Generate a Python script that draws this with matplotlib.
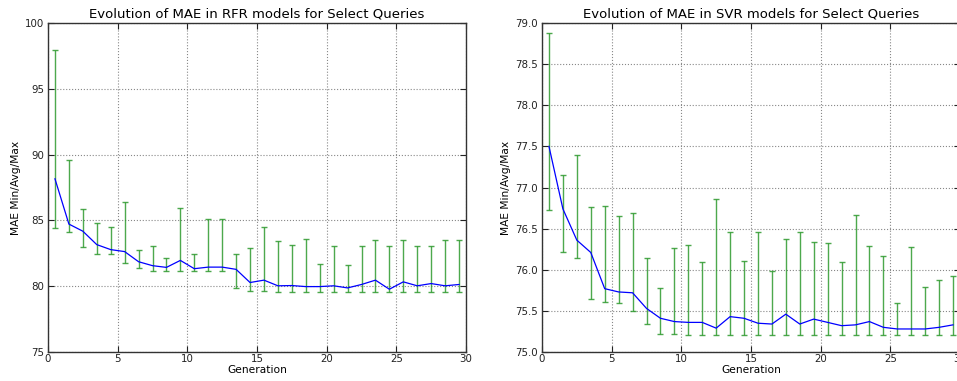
import matplotlib
matplotlib.use("Agg")
import matplotlib.pyplot as plt
import numpy as np

generations = [g + 0.5 for g in range(30)]

rfr_avg = [88.16, 84.72, 84.18, 83.16, 82.78, 82.63, 81.86, 81.56, 81.43, 81.96,
           81.33, 81.45, 81.45, 81.28, 80.28, 80.46, 80.03, 80.05, 79.97, 79.97,
           80.03, 79.87, 80.13, 80.46, 79.77, 80.33, 80.03, 80.20, 80.03, 80.13]
rfr_max = [97.98, 89.62, 85.87, 84.77, 84.49, 86.40, 82.78, 83.09, 82.17, 85.94,
           82.47, 85.10, 85.10, 82.42, 82.88, 84.49, 83.42, 83.11, 83.57, 81.68,
           83.06, 81.61, 83.06, 83.52, 83.06, 83.52, 83.06, 83.06, 83.52, 83.52]
rfr_min = [84.46, 84.13, 82.98, 82.45, 82.45, 81.76, 81.38, 81.17, 81.17, 81.12,
           81.12, 81.12, 81.12, 79.85, 79.64, 79.64, 79.59, 79.59, 79.59, 79.54,
           79.54, 79.54, 79.54, 79.54, 79.54, 79.54, 79.54, 79.54, 79.54, 79.54]

svr_avg = [77.50, 76.74, 76.36, 76.21, 75.77, 75.73, 75.72, 75.53, 75.41, 75.37,
           75.36, 75.36, 75.29, 75.43, 75.41, 75.35, 75.34, 75.46, 75.34, 75.40,
           75.36, 75.32, 75.33, 75.37, 75.30, 75.28, 75.28, 75.28, 75.30, 75.33]
svr_max = [78.88, 77.15, 77.39, 76.76, 76.78, 76.65, 76.69, 76.14, 75.78, 76.26,
           76.30, 76.09, 76.86, 76.46, 76.11, 76.46, 75.99, 76.37, 76.46, 76.34,
           76.32, 76.10, 76.66, 76.29, 76.17, 75.59, 76.28, 75.79, 75.88, 75.92]
svr_min = [76.73, 76.22, 76.14, 75.65, 75.61, 75.59, 75.50, 75.34, 75.22, 75.22,
           75.21, 75.21, 75.21, 75.21, 75.21, 75.21, 75.21, 75.21, 75.21, 75.21,
           75.21, 75.21, 75.21, 75.21, 75.21, 75.21, 75.21, 75.21, 75.21, 75.21]

titles = ["Evolution of MAE in RFR models for Select Queries",
          "Evolution of MAE in SVR models for Select Queries"]
ylims = [(75, 100), (75, 79)]
yticks = [np.arange(75, 100.1, 5), np.arange(75, 79.01, 0.5)]
ytick_fmt = ["{:.0f}", "{:.1f}"]

W, H = 957, 381
fig = plt.figure(figsize=(W / 100, H / 100), dpi=100)
ax_left = fig.add_axes([48 / W, (H - 352) / H, 418 / W, 329 / H])
ax_right = fig.add_axes([542 / W, (H - 352) / H, 418 / W, 329 / H])

series = [(rfr_avg, rfr_min, rfr_max), (svr_avg, svr_min, svr_max)]
for i, (ax, (avg, mn, mx)) in enumerate(zip([ax_left, ax_right], series)):
    avg = np.array(avg)
    lower = avg - np.array(mn)
    upper = np.array(mx) - avg
    ax.errorbar(generations, avg, yerr=[lower, upper], fmt="none",
                ecolor="#2e9a2e", elinewidth=1.0, capsize=2.5, capthick=1.0,
                alpha=0.85, zorder=2)
    ax.plot(generations, avg, color="#0000ff", linewidth=0.9, zorder=3)
    ax.set_xlim(0, 30)
    ax.set_ylim(*ylims[i])
    ax.set_xticks(np.arange(0, 31, 5))
    ax.set_yticks(yticks[i])
    ax.set_yticklabels([ytick_fmt[i].format(v) for v in yticks[i]])
    ax.grid(True, linestyle=":", color="#888888", linewidth=0.8)
    ax.set_axisbelow(True)
    ax.tick_params(direction="in", length=4, labelsize=7.4, colors="#222222",
                   top=True, right=True)
    ax.tick_params(axis="x", pad=1.5)
    ax.tick_params(axis="y", pad=2.7)
    for sp in ax.spines.values():
        sp.set_color("#333333")
        sp.set_linewidth(1.0)
    ax.set_title(titles[i], fontsize=9.5, pad=4)
    ax.set_xlabel("Generation", fontsize=7.7, labelpad=1)
    ax.set_ylabel("MAE Min/Avg/Max", fontsize=7.7, labelpad=3)

fig.savefig("out.png", dpi=100)
